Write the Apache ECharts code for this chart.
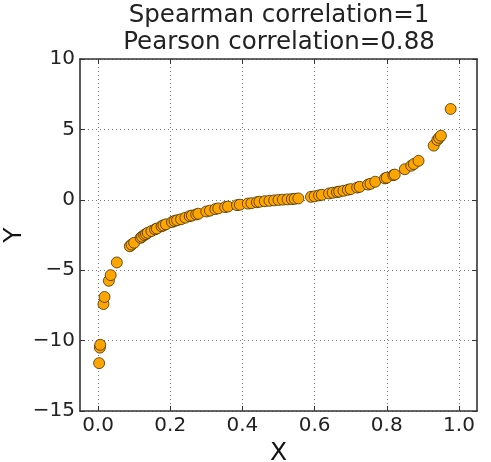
<!DOCTYPE html>
<html>
<head>
<meta charset="utf-8">
<script src="https://cdn.jsdelivr.net/npm/echarts@6/dist/echarts.min.js"></script>
<style>
html,body{margin:0;padding:0;background:#fff;}
#chart{width:491px;height:462px;}
</style>
</head>
<body>
<div id="chart"></div>
<script>
var xValues = [0.003, 0.005, 0.006, 0.015, 0.018, 0.03, 0.035, 0.052, 0.088, 0.093, 0.1, 0.118, 0.122, 0.128, 0.133, 0.138, 0.148, 0.158, 0.163, 0.176, 0.181, 0.188, 0.205, 0.212, 0.219, 0.23, 0.242, 0.254, 0.26, 0.272, 0.278, 0.3, 0.31, 0.325, 0.333, 0.352, 0.36, 0.385, 0.393, 0.415, 0.425, 0.44, 0.447, 0.462, 0.475, 0.488, 0.5, 0.512, 0.525, 0.537, 0.545, 0.555, 0.59, 0.6, 0.612, 0.62, 0.64, 0.65, 0.662, 0.668, 0.68, 0.692, 0.7, 0.718, 0.725, 0.748, 0.755, 0.768, 0.795, 0.8, 0.818, 0.822, 0.85, 0.868, 0.875, 0.888, 0.93, 0.94, 0.945, 0.95, 0.977];
var yValues = [-11.6, -10.5, -10.3, -7.4, -6.9, -5.75, -5.35, -4.45, -3.3, -3.18, -3.05, -2.7, -2.62, -2.5, -2.43, -2.34, -2.22, -2.1, -2.04, -1.88, -1.82, -1.74, -1.58, -1.5, -1.45, -1.38, -1.27, -1.16, -1.12, -1.04, -0.99, -0.83, -0.77, -0.66, -0.61, -0.52, -0.48, -0.38, -0.35, -0.27, -0.24, -0.17, -0.14, -0.1, -0.07, -0.04, -0.01, 0.01, 0.03, 0.05, 0.07, 0.1, 0.21, 0.25, 0.31, 0.35, 0.45, 0.5, 0.55, 0.58, 0.64, 0.71, 0.76, 0.87, 0.92, 1.08, 1.14, 1.28, 1.52, 1.57, 1.75, 1.79, 2.17, 2.42, 2.54, 2.77, 3.85, 4.25, 4.4, 4.55, 6.45];
var xTicks = [0.0, 0.2, 0.4, 0.6, 0.8, 1.0];
var yTicks = [-15, -10, -5, 0, 5, 10];
var titleLines = ['Spearman correlation=1', 'Pearson correlation=0.88'];

var points = xValues.map(function (x, i) { return [x, yValues[i]]; });
var FONT = 'DejaVu Sans';
var lineStyle = { color: '#333', width: 1.6 };
var gridLine = { show: true, lineStyle: { color: '#777', type: [1, 3], width: 1 } };

function xAxisDef(primary) {
  return {
    type: 'value', min: -0.05, max: 1.05,
    position: primary ? 'bottom' : 'top',
    name: primary ? 'X' : '', nameLocation: 'middle', nameGap: 30, nameMoveOverlap: false,
    nameTextStyle: { fontFamily: FONT, fontSize: 25, color: '#111' },
    axisLine: { show: true, onZero: false, lineStyle: lineStyle },
    axisTick: { show: true, inside: true, length: 5, customValues: xTicks, lineStyle: { color: '#333', width: 1 } },
    axisLabel: { show: primary, customValues: xTicks, margin: 5, fontFamily: FONT, fontSize: 20, color: '#222',
      formatter: function (v) { return v.toFixed(1); } },
    splitLine: primary ? gridLine : { show: false }
  };
}
function yAxisDef(primary) {
  return {
    type: 'value', min: -15, max: 10, interval: 5,
    position: primary ? 'left' : 'right',
    name: primary ? 'Y' : '', nameLocation: 'middle', nameGap: 53, nameRotate: 90, nameMoveOverlap: false,
    nameTextStyle: { fontFamily: FONT, fontSize: 25, color: '#111' },
    axisLine: { show: true, onZero: false, lineStyle: lineStyle },
    axisTick: { show: true, inside: true, length: 5, lineStyle: { color: '#333', width: 1 } },
    axisLabel: { show: primary, margin: 5, fontFamily: FONT, fontSize: 20, color: '#222',
      formatter: function (v) { return v < 0 ? '\u2212' + Math.abs(v) : String(v); } },
    splitLine: primary ? gridLine : { show: false }
  };
}

var chart = echarts.init(document.getElementById('chart'), null, { renderer: 'canvas' });
chart.setOption({
  animation: false,
  backgroundColor: '#fff',
  title: {
    text: titleLines.join('\n'),
    left: 279, top: 2, padding: 0, textAlign: 'center',
    textStyle: { fontFamily: FONT, fontSize: 24.5, fontWeight: 'normal', color: '#222', lineHeight: 27 }
  },
  grid: { left: 80, right: 14, top: 59, bottom: 51, containLabel: false, outerBoundsMode: 'none' },
  xAxis: [xAxisDef(true), xAxisDef(false)],
  yAxis: [yAxisDef(true), yAxisDef(false)],
  series: [{
    type: 'scatter',
    xAxisIndex: 0, yAxisIndex: 0,
    data: points,
    symbolSize: 11,
    itemStyle: { color: '#FFA500', borderColor: 'rgba(40,30,0,0.7)', borderWidth: 1, opacity: 1 }
  }]
});
</script>
</body>
</html>
